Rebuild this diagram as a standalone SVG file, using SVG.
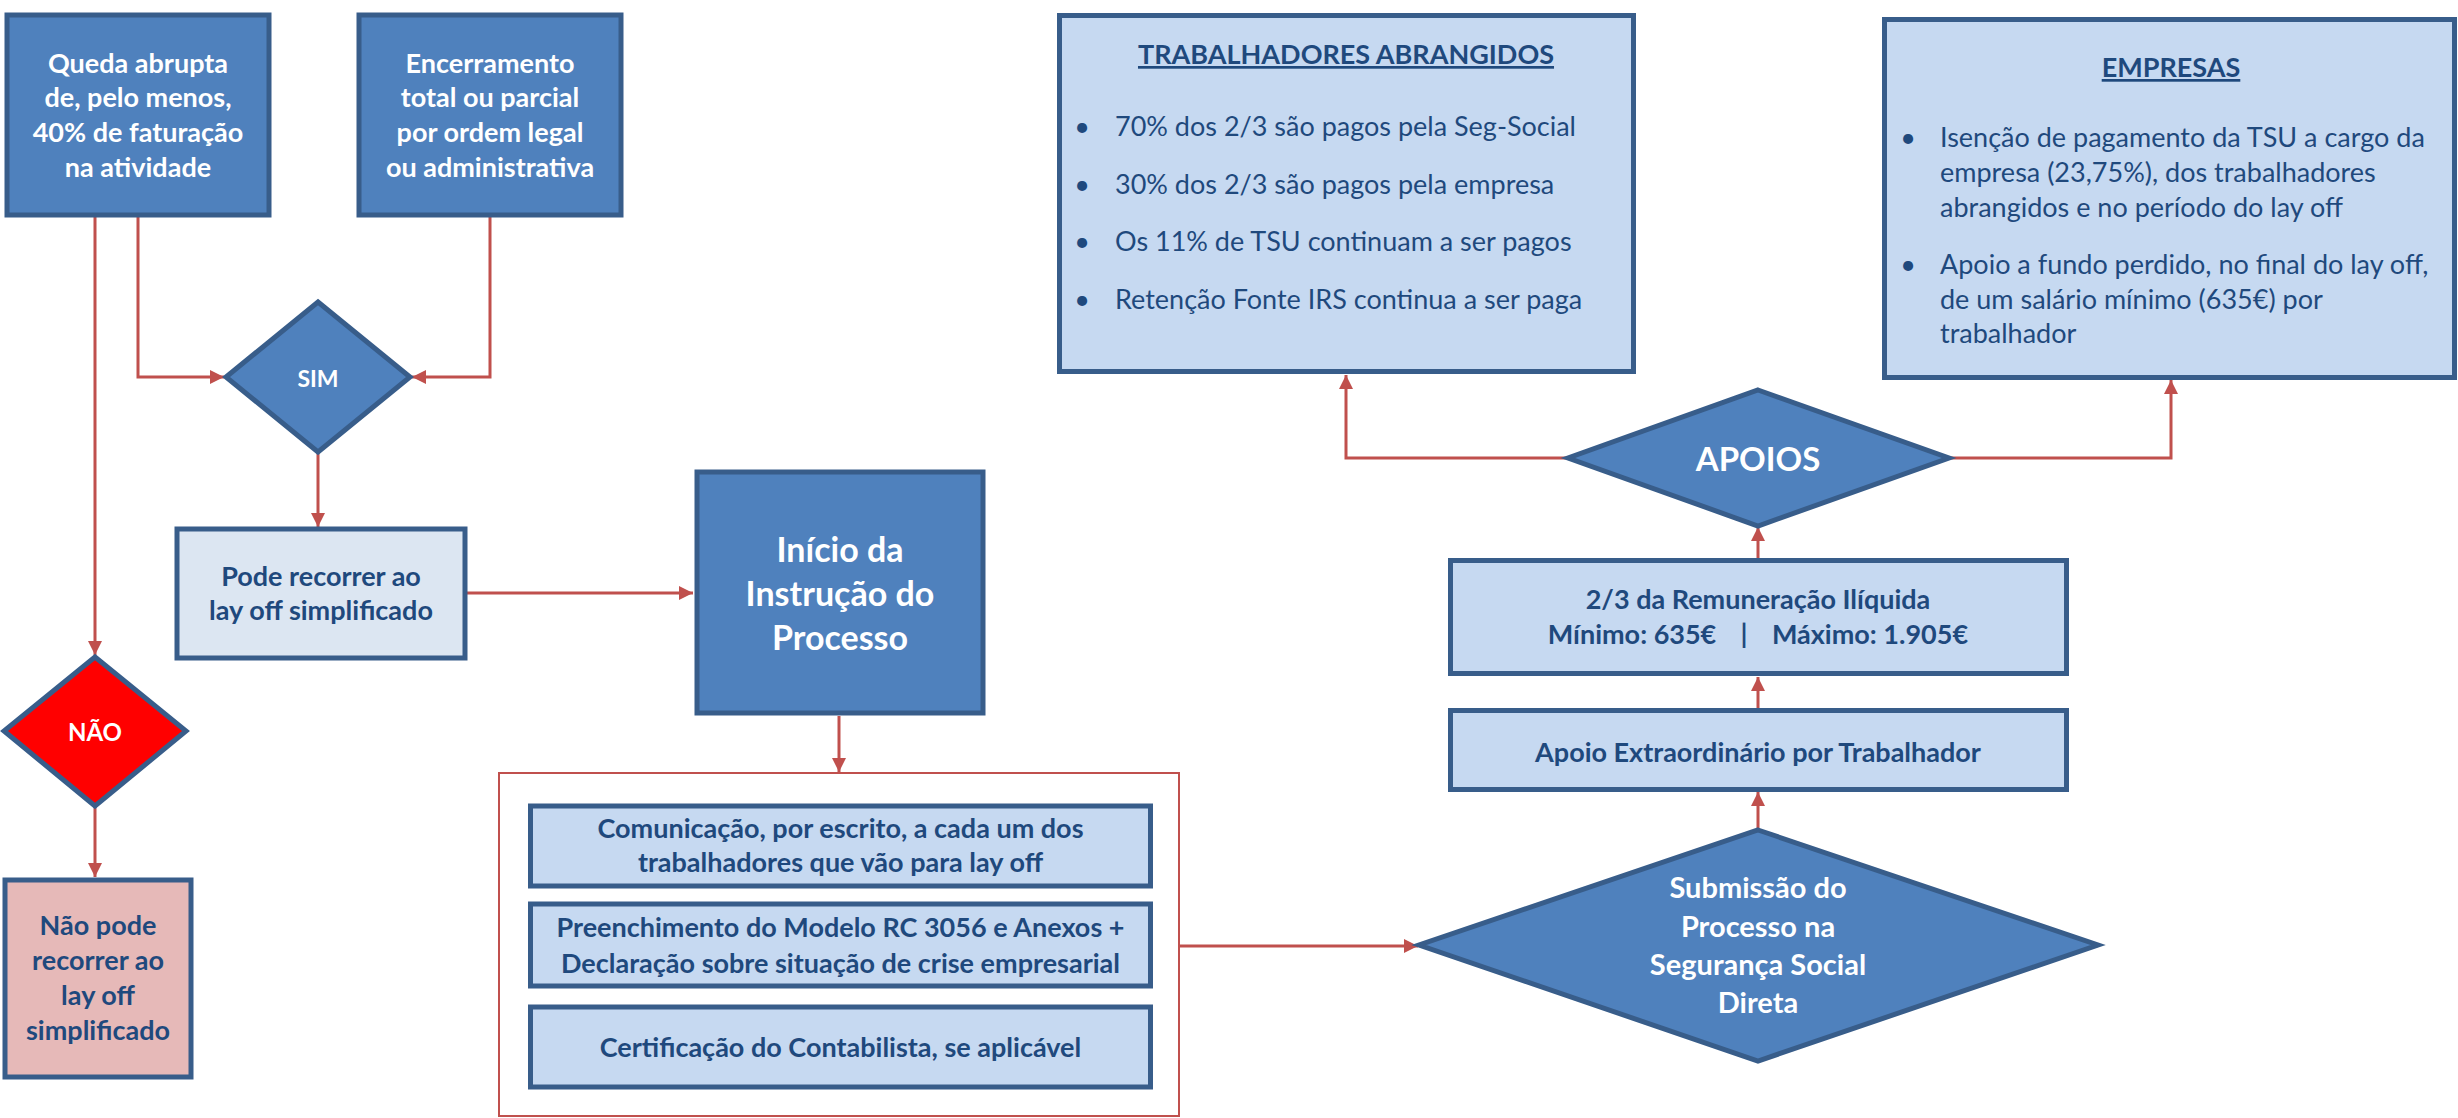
<svg xmlns="http://www.w3.org/2000/svg" width="2458" height="1118" viewBox="0 0 2458 1118">
<style>
.box{stroke:#385D8A;stroke-width:5;stroke-linejoin:miter}
.dark{fill:#4F81BD}
.light{fill:#C6D9F1}
.pale{fill:#DCE6F2}
.pink{fill:#E6B9B8}
.red{fill:#FF0000}
.t{font-family:Lato,'Liberation Sans',sans-serif;font-weight:700;font-size:27px;text-anchor:middle}
.w{fill:#FFFFFF}
.b{fill:#1F497D}
.reg{font-family:Lato,'Liberation Sans',sans-serif;font-weight:400;font-size:27px;fill:#1F497D}
.bul{text-anchor:middle}
.conn{fill:none;stroke:#C0504D;stroke-width:3}
.frame{fill:none;stroke:#C0504D;stroke-width:2}
</style>
<defs>
<marker id="arr" markerUnits="userSpaceOnUse" markerWidth="16" markerHeight="16" refX="14" refY="7" orient="auto">
<path d="M0,0 L14,7 L0,14 z" fill="#C0504D"/>
</marker>
</defs>
<rect width="2458" height="1118" fill="#FFFFFF"/>

<g id="connectors" class="conn" marker-end="url(#arr)">
<path d="M138,217 V377 H224"/>
<path d="M490,217 V377 H412"/>
<path d="M95,217 V655"/>
<path d="M318,452 V527"/>
<path d="M95,807 V877"/>
<path d="M467,593 H693"/>
<path d="M839,716 V772"/>
<path d="M1180,946 H1418"/>
<path d="M1758,830 V792"/>
<path d="M1758,708 V677"/>
<path d="M1758,558 V527"/>
<path d="M1568,458 H1346 V375"/>
<path d="M1949,458 H2171 V380"/>
</g>

<g id="queda">
<rect class="box dark" x="7" y="15" width="262" height="200"/>
<text class="t w"><tspan x="138" y="73">Queda abrupta</tspan><tspan x="138" y="107">de, pelo menos,</tspan><tspan x="138" y="142">40% de faturação</tspan><tspan x="138" y="177">na atividade</tspan></text>
</g>

<g id="encerramento">
<rect class="box dark" x="359" y="15" width="262" height="200"/>
<text class="t w"><tspan x="490" y="73">Encerramento</tspan><tspan x="490" y="107">total ou parcial</tspan><tspan x="490" y="142">por ordem legal</tspan><tspan x="490" y="177">ou administrativa</tspan></text>
</g>

<g id="sim">
<polygon class="box dark" points="318,302 410,377 318,452 226,377"/>
<text class="t w" x="318" y="387" style="font-size:23px">SIM</text>
</g>

<g id="nao">
<polygon class="box red" points="95,657 186,731 95,806 4,731"/>
<text class="t w" x="95" y="741" style="font-size:24px">NÃO</text>
</g>

<g id="pode">
<rect class="box pale" x="177" y="529" width="288" height="129"/>
<text class="t b"><tspan x="321" y="586">Pode recorrer ao</tspan><tspan x="321" y="620">lay off simplificado</tspan></text>
</g>

<g id="naopode">
<rect class="box pink" x="5" y="880" width="186" height="197"/>
<text class="t b"><tspan x="98" y="935">Não pode</tspan><tspan x="98" y="970">recorrer ao</tspan><tspan x="98" y="1005">lay off</tspan><tspan x="98" y="1040">simplificado</tspan></text>
</g>

<g id="inicio">
<rect class="box dark" x="697" y="472" width="286" height="241"/>
<text class="t w" style="font-size:34px"><tspan x="840" y="562">Início da</tspan><tspan x="840" y="606">Instrução do</tspan><tspan x="840" y="650">Processo</tspan></text>
</g>

<g id="instrucao">
<rect class="frame" x="499" y="773" width="680" height="343"/>
<g id="comunicacao">
<rect class="box light" x="530.5" y="806" width="620" height="80"/>
<text class="t b"><tspan x="840.5" y="838">Comunicação, por escrito, a cada um dos</tspan><tspan x="840.5" y="872">trabalhadores que vão para lay off</tspan></text>
</g>
<g id="preenchimento">
<rect class="box light" x="530.5" y="904" width="620" height="82"/>
<text class="t b"><tspan x="840.5" y="937">Preenchimento do Modelo RC 3056 e Anexos +</tspan><tspan x="840.5" y="973">Declaração sobre situação de crise empresarial</tspan></text>
</g>
<g id="certificacao">
<rect class="box light" x="530.5" y="1007" width="620" height="80"/>
<text class="t b" x="840.5" y="1057">Certificação do Contabilista, se aplicável</text>
</g>
</g>

<g id="submissao">
<polygon class="box dark" points="1758,830 2098,945 1758,1061 1419,945"/>
<text class="t w" style="font-size:29px"><tspan x="1758" y="898">Submissão do</tspan><tspan x="1758" y="937">Processo na</tspan><tspan x="1758" y="975">Segurança Social</tspan><tspan x="1758" y="1013">Direta</tspan></text>
</g>

<g id="apoioextra">
<rect class="box light" x="1450.5" y="710.5" width="616" height="79"/>
<text class="t b" x="1758" y="762">Apoio Extraordinário por Trabalhador</text>
</g>

<g id="remuneracao">
<rect class="box light" x="1450.5" y="560.5" width="616" height="113"/>
<text class="t b" x="1758" y="609">2/3 da Remuneração Ilíquida</text>
<text class="t b"><tspan x="1632" y="644">Mínimo: 635€</tspan><tspan x="1744" y="644">|</tspan><tspan x="1870" y="644">Máximo: 1.905€</tspan></text>
</g>

<g id="apoios">
<polygon class="box dark" points="1758,390 1949,458 1758,526 1568,458"/>
<text class="t w" x="1758" y="471" style="font-size:33px">APOIOS</text>
</g>

<g id="trabalhadores">
<rect class="box light" x="1059.5" y="15.5" width="574" height="356"/>
<text class="t b" x="1346" y="64" text-decoration="underline">TRABALHADORES ABRANGIDOS</text>
<text class="reg"><tspan class="bul" x="1082" y="136">•</tspan><tspan x="1115" y="136">70% dos 2/3 são pagos pela Seg-Social</tspan></text>
<text class="reg"><tspan class="bul" x="1082" y="194">•</tspan><tspan x="1115" y="194">30% dos 2/3 são pagos pela empresa</tspan></text>
<text class="reg"><tspan class="bul" x="1082" y="251">•</tspan><tspan x="1115" y="251">Os 11% de TSU continuam a ser pagos</tspan></text>
<text class="reg"><tspan class="bul" x="1082" y="309">•</tspan><tspan x="1115" y="309">Retenção Fonte IRS continua a ser paga</tspan></text>
</g>

<g id="empresas">
<rect class="box light" x="1884.5" y="19.5" width="570" height="358"/>
<text class="t b" x="2171" y="77" text-decoration="underline">EMPRESAS</text>
<text class="reg"><tspan class="bul" x="1908" y="147">•</tspan><tspan x="1940" y="147">Isenção de pagamento da TSU a cargo da</tspan><tspan x="1940" y="182">empresa (23,75%), dos trabalhadores</tspan><tspan x="1940" y="217">abrangidos e no período do lay off</tspan></text>
<text class="reg"><tspan class="bul" x="1908" y="274">•</tspan><tspan x="1940" y="274">Apoio a fundo perdido, no final do lay off,</tspan><tspan x="1940" y="309">de um salário mínimo (635€) por</tspan><tspan x="1940" y="343">trabalhador</tspan></text>
</g>
</svg>
